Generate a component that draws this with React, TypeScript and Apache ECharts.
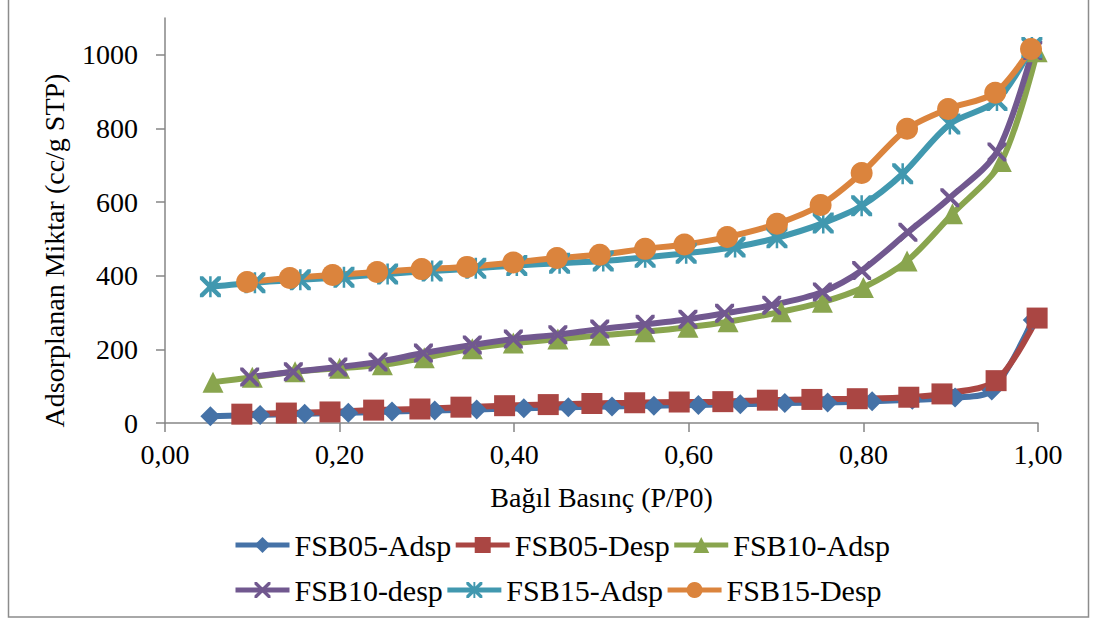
import React, { useEffect, useRef } from "react";
import * as echarts from "echarts";

// ---- Data ----
const seriesNames = ["FSB05-Adsp", "FSB05-Desp", "FSB10-Adsp", "FSB10-desp", "FSB15-Adsp", "FSB15-Desp"];

const fsb05AdspX = [0.052, 0.109, 0.160, 0.210, 0.260, 0.309, 0.357, 0.411, 0.462, 0.512, 0.560, 0.611, 0.659, 0.710, 0.759, 0.810, 0.856, 0.905, 0.947, 0.994];
const fsb05AdspY = [18, 22, 25, 28, 31, 34, 37, 40, 43, 45, 47, 49, 51, 54, 56, 59, 63, 69, 88, 280];

const fsb05DespX = [0.088, 0.139, 0.189, 0.239, 0.292, 0.339, 0.389, 0.439, 0.489, 0.538, 0.589, 0.639, 0.690, 0.741, 0.793, 0.852, 0.890, 0.952, 0.999];
const fsb05DespY = [24, 27, 30, 35, 38, 43, 47, 50, 53, 55, 57, 58, 62, 64, 66, 70, 79, 115, 285];

const fsb10AdspX = [0.055, 0.100, 0.149, 0.200, 0.249, 0.297, 0.352, 0.399, 0.450, 0.498, 0.550, 0.599, 0.645, 0.706, 0.753, 0.800, 0.850, 0.902, 0.958, 0.999];
const fsb10AdspY = [111, 124, 139, 149, 158, 177, 202, 217, 228, 238, 248, 260, 275, 302, 328, 368, 440, 568, 710, 1008];

const fsb10DespX = [0.097, 0.147, 0.198, 0.244, 0.296, 0.352, 0.399, 0.450, 0.498, 0.550, 0.599, 0.641, 0.695, 0.753, 0.798, 0.851, 0.899, 0.953, 0.994];
const fsb10DespY = [125, 139, 152, 166, 190, 212, 228, 240, 255, 268, 282, 298, 320, 356, 414, 518, 612, 736, 1012];

const fsb15AdspX = [0.052, 0.103, 0.155, 0.205, 0.255, 0.306, 0.356, 0.403, 0.452, 0.502, 0.550, 0.597, 0.653, 0.701, 0.754, 0.798, 0.845, 0.899, 0.953, 0.993];
const fsb15AdspY = [370, 381, 389, 396, 405, 413, 420, 428, 434, 440, 450, 461, 478, 503, 543, 590, 677, 812, 876, 1020];

const fsb15DespX = [0.094, 0.143, 0.192, 0.243, 0.294, 0.346, 0.399, 0.449, 0.498, 0.550, 0.595, 0.644, 0.701, 0.751, 0.798, 0.850, 0.897, 0.951, 0.992];
const fsb15DespY = [383, 394, 402, 410, 418, 424, 436, 448, 457, 473, 485, 505, 541, 592, 679, 799, 853, 897, 1016];

const xTickValues = [0, 0.2, 0.4, 0.6, 0.8, 1.0];
const xTickLabels = ["0,00", "0,20", "0,40", "0,60", "0,80", "1,00"];
const yTickValues = [0, 200, 400, 600, 800, 1000];
const yTickLabels = ["0", "200", "400", "600", "800", "1000"];

const xAxisTitle = "Bağıl Basınç (P/P0)";
const yAxisTitle = "Adsorplanan Miktar (cc/g STP)";

// ---- Styling ----
const FONT = "Liberation Serif, Times New Roman, serif";
const AXIS_COLOR = "#868686";

const X_SYMBOL =
  "path://M0,0L3,0L10,7L17,0L20,0L20,3L13,10L20,17L20,20L17,20L10,13L3,20L0,20L0,17L7,10L0,3Z";
const STAR_SYMBOL =
  "path://M0,0L3,0L10,7L17,0L20,0L20,3L13,10L20,17L20,20L17,20L10,13L3,20L0,20L0,17L7,10L0,3Z M8.8,0L11.2,0L11.2,20L8.8,20Z";

const zip = (xs: number[], ys: number[]) => xs.map((x, i) => [x, ys[i]]);

const seriesDefs = [
  { name: seriesNames[0], data: zip(fsb05AdspX, fsb05AdspY), color: "#4572A7", symbol: "diamond", size: 20 },
  { name: seriesNames[1], data: zip(fsb05DespX, fsb05DespY), color: "#AA4643", symbol: "rect", size: 21 },
  { name: seriesNames[2], data: zip(fsb10AdspX, fsb10AdspY), color: "#89A54E", symbol: "triangle", size: 21 },
  { name: seriesNames[3], data: zip(fsb10DespX, fsb10DespY), color: "#71588F", symbol: X_SYMBOL, size: 19 },
  { name: seriesNames[4], data: zip(fsb15AdspX, fsb15AdspY), color: "#4198AF", symbol: STAR_SYMBOL, size: 21 },
  { name: seriesNames[5], data: zip(fsb15DespX, fsb15DespY), color: "#DB843D", symbol: "circle", size: 22 },
];

export default function App() {
  const ref = useRef<HTMLDivElement>(null);

  useEffect(() => {
    if (!ref.current) return;
    const chart = echarts.init(ref.current, null, { renderer: "svg" });

    const legendCommon = {
      left: 228,
      itemWidth: 54,
      itemHeight: 20,
      itemGap: 2,
      lineStyle: { width: 5 },
      textStyle: { fontFamily: FONT, fontSize: 30, color: "#000" },
    };

    chart.setOption({
      animation: false,
      backgroundColor: "#ffffff",
      grid: { left: 165, right: 58, top: 18, bottom: 202, containLabel: false },
      xAxis: {
        type: "value",
        min: 0,
        max: 1,
        interval: 0.2,
        name: xAxisTitle,
        nameLocation: "middle",
        nameGap: 60,
        nameTextStyle: { fontFamily: FONT, fontSize: 28, color: "#000" },
        axisLine: { show: true, onZero: false, lineStyle: { color: AXIS_COLOR, width: 1.5 } },
        axisTick: { show: true, inside: false, length: 9, lineStyle: { color: AXIS_COLOR, width: 1.5 } },
        axisLabel: {
          margin: 17,
          fontFamily: FONT,
          fontSize: 28,
          color: "#000",
          formatter: (v: number) => {
            const i = xTickValues.findIndex((t) => Math.abs(t - v) < 1e-6);
            return i >= 0 ? xTickLabels[i] : "";
          },
        },
        splitLine: { show: false },
      },
      yAxis: {
        type: "value",
        min: 0,
        max: 1100,
        interval: 200,
        name: yAxisTitle,
        nameLocation: "middle",
        nameGap: 97,
        nameTextStyle: { fontFamily: FONT, fontSize: 28, color: "#000", padding: [0, 60, 0, 0] },
        axisLine: { show: true, lineStyle: { color: AXIS_COLOR, width: 1.5 } },
        axisTick: {
          show: true,
          inside: false,
          length: 9,
          customValues: yTickValues,
          lineStyle: { color: AXIS_COLOR, width: 1.5 },
        },
        axisLabel: {
          margin: 27,
          fontFamily: FONT,
          fontSize: 28,
          color: "#000",
          customValues: yTickValues,
          formatter: (v: number) => {
            const i = yTickValues.indexOf(v);
            return i >= 0 ? yTickLabels[i] : "";
          },
        },
        splitLine: { show: false },
      },
      legend: [
        { ...legendCommon, top: 525, data: seriesNames.slice(0, 3) },
        { ...legendCommon, top: 570, data: seriesNames.slice(3, 6) },
      ],
      graphic: [
        {
          type: "rect",
          silent: true,
          shape: { x: 8.5, y: -10, width: 1080, height: 627 },
          style: { fill: "none", stroke: "#8c8c8c", lineWidth: 1.5 },
          z: 100,
        },
      ],
      series: seriesDefs.map((s) => ({
        name: s.name,
        type: "line",
        data: s.data,
        smooth: 0.3,
        symbol: s.symbol,
        symbolSize: s.size,
        showAllSymbol: true,
        lineStyle: { color: s.color, width: 6 },
        itemStyle: { color: s.color, borderWidth: 0 },
        emphasis: { disabled: true },
      })),
    });

    return () => chart.dispose();
  }, []);

  return (
    <div
      ref={ref}
      style={{ position: "fixed", left: 0, top: 0, width: 1096, height: 625, background: "#fff" }}
    />
  );
}
